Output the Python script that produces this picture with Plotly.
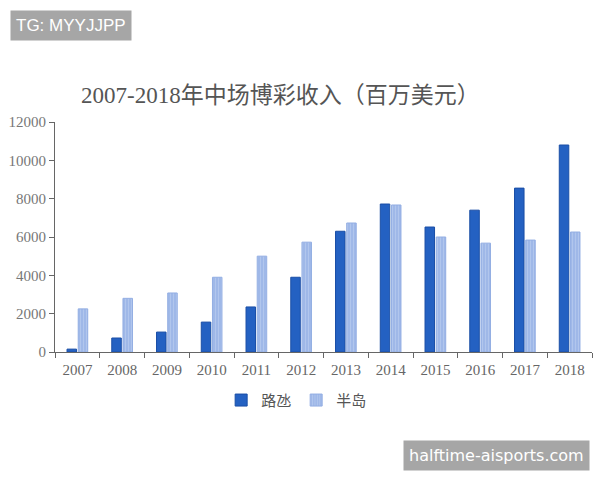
import plotly.graph_objects as go

years = ["2007", "2008", "2009", "2010", "2011", "2012", "2013", "2014", "2015", "2016", "2017", "2018"]
macau = [150, 730, 1040, 1560, 2350, 3900, 6300, 7720, 6520, 7400, 8550, 10800]
peninsula = [2250, 2800, 3080, 3900, 5000, 5730, 6730, 7670, 6000, 5680, 5840, 6260]
y_ticks = [0, 2000, 4000, 6000, 8000, 10000, 12000]

serif = "Liberation Serif, Noto Sans CJK SC"
wm_font = "DejaVu Sans, Liberation Sans"

fig = go.Figure()
fig.add_trace(go.Bar(
    x=years, y=macau, name="路氹",
    marker=dict(color="#2461c2", line=dict(color="#1a4ea6", width=1)),
))
fig.add_trace(go.Bar(
    x=years, y=peninsula, name="半岛",
    marker=dict(color="#9fb8e8", line=dict(color="#93aee3", width=1),
                pattern=dict(shape="|", fgcolor="#c3d3f2", size=3, solidity=0.35)),
))

fig.update_layout(
    width=600, height=480,
    margin=dict(l=55, r=8, t=122, b=128),
    paper_bgcolor="white", plot_bgcolor="white",
    barmode="group", bargap=0.5, bargroupgap=0.15,
    showlegend=True,
    legend=dict(orientation="h", x=0.45, xanchor="center", y=-0.21, yanchor="middle",
                font=dict(family=serif, size=15, color="#555"), itemwidth=30),
    font=dict(family=serif, color="#555"),
    xaxis=dict(
        showline=True, linecolor="#666", linewidth=1,
        ticks="outside", tickson="boundaries", ticklen=5, tickcolor="#666",
        tickfont=dict(family=serif, size=15, color="#666"),
        ticklabelstandoff=4,
        showgrid=False,
    ),
    yaxis=dict(
        range=[0, 12000], tickvals=y_ticks, ticktext=[str(v) for v in y_ticks],
        showline=True, linecolor="#666", linewidth=1,
        ticks="outside", ticklen=5, tickcolor="#666",
        tickfont=dict(family=serif, size=15, color="#777"),
        showgrid=False, zeroline=False,
    ),
    annotations=[
        dict(text="2007-2018年中场博彩收入（百万美元）", xref="paper", yref="paper",
             x=0.419, xanchor="center", y=1.117, yanchor="middle", showarrow=False,
             font=dict(family=serif, size=23, color="#555")),
        dict(text="TG: MYYJJPP", xref="paper", yref="paper", x=-0.084, xanchor="left",
             y=1.42, yanchor="middle", showarrow=False, bgcolor="#a6a6a6",
             borderpad=5, font=dict(family="Liberation Sans, Arial", size=17, color="white")),
        dict(text="halftime-aisports.com", xref="paper", yref="paper", x=0.996, xanchor="right",
             y=-0.448, yanchor="middle", showarrow=False, bgcolor="#a6a6a6",
             borderpad=5, font=dict(family=wm_font, size=16, color="white")),
    ],
)

fig.write_html("out.html")
